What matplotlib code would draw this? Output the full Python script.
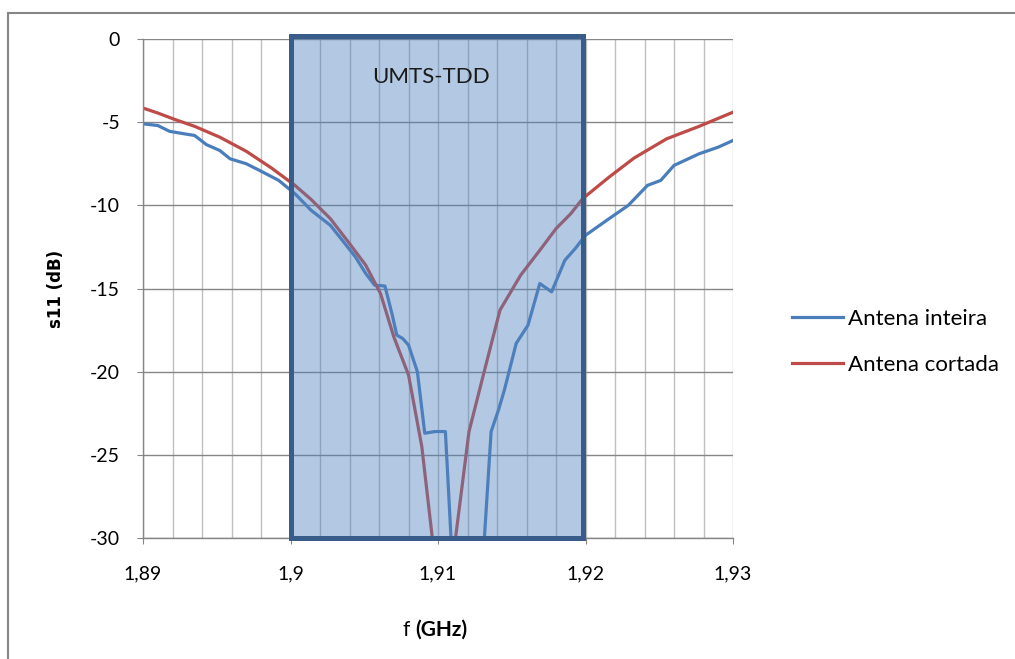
import matplotlib
matplotlib.use("Agg")
import matplotlib.pyplot as plt
from matplotlib.patches import Rectangle
from matplotlib.ticker import MultipleLocator, FuncFormatter

# Antena inteira (blue)
f_inteira = [1.8900, 1.8910, 1.8918, 1.8928, 1.8935, 1.8943, 1.8952, 1.8959,
             1.8970, 1.8979, 1.8992, 1.9003, 1.9014, 1.9027, 1.9036, 1.9044,
             1.9051, 1.9057, 1.9064, 1.9069, 1.9072, 1.9076, 1.9080, 1.9086,
             1.9091, 1.9098, 1.9105, 1.9110, 1.9130, 1.9136, 1.9141, 1.9145,
             1.9153, 1.9161, 1.9169, 1.9177, 1.9186, 1.9193, 1.9200, 1.9216,
             1.9229, 1.9242, 1.9251, 1.9260, 1.9277, 1.9290, 1.9300]
s11_inteira = [-5.10, -5.20, -5.55, -5.70, -5.80, -6.35, -6.70, -7.20,
               -7.50, -7.90, -8.50, -9.30, -10.30, -11.20, -12.20, -13.10,
               -14.10, -14.80, -14.85, -16.60, -17.80, -18.00, -18.40, -20.00,
               -23.70, -23.60, -23.60, -32.00, -32.00, -23.60, -22.30, -21.10,
               -18.30, -17.20, -14.70, -15.20, -13.30, -12.60, -11.80, -10.80,
               -10.00, -8.80, -8.50, -7.60, -6.90, -6.50, -6.10]

# Antena cortada (red)
f_cortada = [1.8900, 1.8910, 1.8922, 1.8935, 1.8952, 1.8970, 1.8987, 1.9003,
             1.9014, 1.9027, 1.9040, 1.9051, 1.9061, 1.9070, 1.9080, 1.9089,
             1.9096, 1.9099, 1.9109, 1.9112, 1.9121, 1.9131, 1.9142, 1.9156,
             1.9169, 1.9180, 1.9190, 1.9198, 1.9216, 1.9233, 1.9255,
             1.9277, 1.9300]
s11_cortada = [-4.15, -4.45, -4.85, -5.25, -5.90, -6.75, -7.75, -8.80,
               -9.65, -10.80, -12.30, -13.60, -15.30, -17.90, -20.20, -24.50,
               -29.90, -32.00, -32.00, -29.90, -23.60, -20.10, -16.30, -14.20,
               -12.70, -11.40, -10.50, -9.60, -8.30, -7.15, -6.00,
               -5.25, -4.40]

band_start, band_end = 1.9, 1.9198
band_label = "UMTS-TDD"

blue = "#4A7EBB"
red = "#BE4B48"
grey = "#868686"
light = "#BFBFBF"
font = ["Lato", "DejaVu Sans"]

fig = plt.figure(figsize=(10.15, 6.59), dpi=100)
ax = fig.add_axes([0.1409, 0.1836, 0.5813, 0.7572])

ax.plot(f_inteira, s11_inteira, color=blue, lw=2.3, label="Antena inteira", zorder=2)
ax.plot(f_cortada, s11_cortada, color=red, lw=2.3, label="Antena cortada", zorder=2)

ax.set_xlim(1.89, 1.93)
ax.set_ylim(-30, 0)

# shaded band, drawn over the curves
ax.add_patch(Rectangle((band_start, -30), band_end - band_start, 30.2,
                       facecolor=(79 / 255, 129 / 255, 189 / 255, 0.43),
                       edgecolor="#385D8A", lw=3.6, zorder=3, clip_on=False))
ax.text(1.9095, -2.3, band_label, ha="center", va="center", fontsize=16,
        family=font, color="#1a1a1a", zorder=4)

# axes styling
ax.xaxis.set_major_locator(MultipleLocator(0.01))
ax.xaxis.set_minor_locator(MultipleLocator(0.002))
ax.yaxis.set_major_locator(MultipleLocator(5))
ax.xaxis.set_major_formatter(FuncFormatter(lambda v, p: f"{v:g}".replace(".", ",")))
ax.yaxis.set_major_formatter(FuncFormatter(lambda v, p: f"{v:g}" if abs(v) > 1e-9 else "0"))

ax.set_axisbelow(True)
ax.grid(True, which="both", axis="x", color=light, lw=1)
ax.grid(True, which="major", axis="y", color=grey, lw=1)

for side in ["top", "right"]:
    ax.spines[side].set_visible(False)
for side in ["left", "bottom"]:
    ax.spines[side].set_color(grey)
    ax.spines[side].set_linewidth(1)

ax.tick_params(axis="x", which="major", direction="out", length=4, color=grey,
               pad=16, labelsize=14)
ax.tick_params(axis="x", which="minor", length=0)
ax.tick_params(axis="y", direction="out", length=4.5, color=grey, pad=12, labelsize=14)
for lab in ax.get_xticklabels() + ax.get_yticklabels():
    lab.set_family(font)

ax.set_ylabel("s11 (dB)", fontsize=12, fontweight="bold", family="DejaVu Sans")
ax.yaxis.set_label_coords(-0.132, 0.5)

# x label: plain "f" and bold "(GHz)"
xl_x, xl_y = 0.409, 1 - 630 / 659
fig.text(xl_x, xl_y, "f ", ha="right", va="center", fontsize=15, family=font)
fig.text(xl_x, xl_y, "(GHz)", ha="left", va="center", fontsize=15,
         family=font, fontweight="bold")

fig.legend(loc="upper left", bbox_to_anchor=(792 / 1015, 1 - 309 / 659),
           frameon=False, handlelength=2.3, handletextpad=0.2,
           labelspacing=1.15, borderpad=0, borderaxespad=0,
           prop={"family": font, "size": 16})

# outer chart border
fig.add_artist(Rectangle((8 / 1015, -0.1), 1.2, 1 - 13 / 659 + 0.1,
                         transform=fig.transFigure, fill=False, edgecolor=grey,
                         lw=1.5))

fig.savefig("out.png", dpi=100)
